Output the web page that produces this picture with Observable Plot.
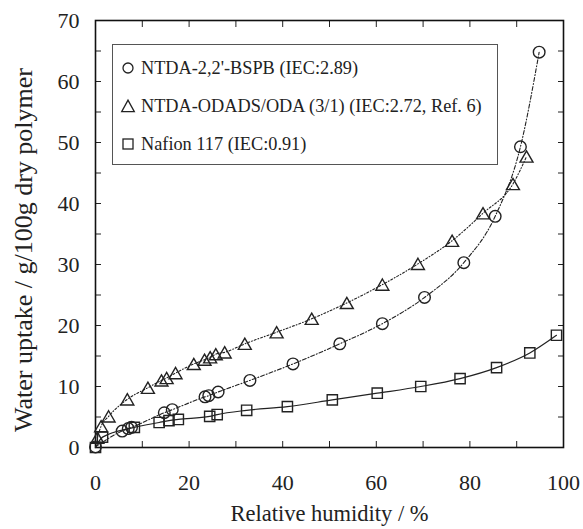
<!DOCTYPE html>
<html><head><meta charset="utf-8">
<script src="https://cdn.jsdelivr.net/npm/d3@7"></script>
<script src="https://cdn.jsdelivr.net/npm/@observablehq/plot@0.6"></script>
<style>
body{margin:0;background:#fff;}
#wrap{position:relative;width:583px;height:529px;font-family:'Liberation Serif','DejaVu Serif',serif;color:#222;}
#legend{position:absolute;left:112px;top:44px;width:386px;height:121px;border:1px solid #555;box-sizing:border-box;background:#fff;}
.row{position:absolute;left:0;height:0;width:100%;}
.row svg{position:absolute;left:6px;top:-9px;}
.row span{position:absolute;left:28px;top:0;transform:translateY(-50%);white-space:nowrap;font-size:18.3px;line-height:1;font-family:'Liberation Serif','DejaVu Serif',serif;}
</style></head>
<body>
<div id="wrap"></div>
<script>
// NTDA-2,2'-BSPB (circles)
const bspbX = [0, 5.7, 7.0, 7.7, 14.7, 16.4, 23.4, 24.2, 26.2, 33.0, 42.2, 52.2, 61.3, 70.3, 78.7, 85.4, 90.8, 94.8];
const bspbY = [0.1, 2.7, 3.1, 3.3, 5.7, 6.2, 8.3, 8.5, 9.1, 11.0, 13.7, 17.0, 20.3, 24.6, 30.3, 37.9, 49.3, 64.8];
// NTDA-ODADS/ODA (3/1) (triangles)
const odaX = [0.4, 1.2, 2.8, 6.8, 11.2, 14.1, 15.2, 17.1, 21.0, 23.3, 24.5, 25.7, 27.6, 31.9, 38.7, 46.2, 53.7, 61.3, 68.9, 76.2, 82.8, 89.2, 92.1];
const odaY = [1.6, 3.5, 5.1, 7.9, 9.8, 11.0, 11.4, 12.2, 13.7, 14.4, 14.8, 15.3, 15.6, 17.0, 18.9, 21.1, 23.7, 26.7, 30.1, 33.9, 38.4, 43.2, 47.7];
// Nafion 117 (squares)
const nafX = [0, 1.5, 8.3, 13.6, 15.7, 17.7, 24.4, 26.0, 32.3, 41.0, 50.6, 60.2, 69.5, 77.9, 85.7, 92.8, 98.5];
const nafY = [0, 1.7, 3.3, 4.1, 4.4, 4.6, 5.1, 5.4, 6.1, 6.7, 7.8, 8.9, 10.0, 11.3, 13.1, 15.5, 18.4];

const seriesNames = ["NTDA-2,2'-BSPB (IEC:2.89)", "NTDA-ODADS/ODA (3/1) (IEC:2.72, Ref. 6)", "Nafion 117 (IEC:0.91)"];
const xTicks = [0, 20, 40, 60, 80, 100];
const xMinor = [0, 10, 20, 30, 40, 50, 60, 70, 80, 90, 100];
const yTicks = [0, 10, 20, 30, 40, 50, 60, 70];
const yMinor = [0, 5, 10, 15, 20, 25, 30, 35, 40, 45, 50, 55, 60, 65, 70];
const xLabel = "Relative humidity / %";
const yLabel = "Water uptake / g/100g dry polymer";

const toRows = (xs, ys) => xs.map((x, i) => ({x, y: ys[i]}));
const bspb = toRows(bspbX, bspbY);
const oda = toRows(odaX, odaY);
const naf = toRows(nafX, nafY);

// triangle centred on its bounding box
const triSym = {draw(ctx, size) {
  const r = Math.sqrt(size / Math.PI);
  const a = 1.35 * r, b = 1.17 * r;
  ctx.moveTo(0, -b); ctx.lineTo(a, b); ctx.lineTo(-a, b); ctx.closePath();
}};

const ink = "#222";
const serif = "'Liberation Serif','DejaVu Serif',serif";
const chart = Plot.plot({
  width: 583, height: 529,
  marginLeft: 95, marginRight: 20, marginTop: 20, marginBottom: 82,
  x: {domain: [0, 100]},
  y: {domain: [0, 70]},
  style: {fontFamily: serif, color: ink, background: "white"},
  marks: [
    Plot.axisX({anchor: "bottom", ticks: xMinor, tickSize: 6, dy: -6, tickFormat: () => "", label: null, stroke: ink}),
    Plot.axisX({anchor: "top", ticks: xMinor, tickSize: 6, dy: 6, tickFormat: () => "", label: null, stroke: ink}),
    Plot.axisY({anchor: "left", ticks: yMinor, tickSize: 6, dx: 6, tickFormat: () => "", label: null, stroke: ink}),
    Plot.axisY({anchor: "right", ticks: yMinor, tickSize: 6, dx: -6, tickFormat: () => "", label: null, stroke: ink}),
    Plot.axisX({anchor: "bottom", ticks: xTicks, tickSize: 0, tickPadding: 27, fontSize: 22, label: null, fill: ink, fontFamily: serif}),
    Plot.axisY({anchor: "left", ticks: yTicks, tickSize: 0, tickPadding: 16, fontSize: 22, label: null, fill: ink, fontFamily: serif}),
    Plot.frame({stroke: "#111", strokeWidth: 1.6}),
    Plot.line(naf, {x: "x", y: "y", curve: "monotone-x", stroke: ink, strokeWidth: 1.2}),
    Plot.line(bspb, {x: "x", y: "y", curve: "monotone-x", stroke: ink, strokeWidth: 1.1, strokeDasharray: "4,2,1,2"}),
    Plot.line(oda, {x: "x", y: "y", curve: "monotone-x", stroke: ink, strokeWidth: 1.1, strokeDasharray: "2,2,0.8,2"}),
    Plot.dot(naf, {x: "x", y: "y", symbol: "square", r: 5.8, stroke: ink, strokeWidth: 1.4, fill: "none"}),
    Plot.dot(bspb, {x: "x", y: "y", symbol: "circle", r: 5.8, stroke: ink, strokeWidth: 1.4, fill: "none"}),
    Plot.dot(oda, {x: "x", y: "y", symbol: triSym, r: 4.8, stroke: ink, strokeWidth: 1.4, fill: "none"}),
    Plot.text([xLabel], {text: d => d, frameAnchor: "bottom", lineAnchor: "middle", dy: 66, fontSize: 22.5, fill: ink, fontFamily: serif}),
    Plot.text([yLabel], {text: d => d, frameAnchor: "left", textAnchor: "middle", lineAnchor: "middle", rotate: -90, dx: -72, dy: 16, fontSize: 26, fill: ink, fontFamily: serif})
  ]
});
const wrap = document.getElementById("wrap");
wrap.appendChild(chart);

// legend (inside the plot area)
const legend = document.createElement("div");
legend.id = "legend";
const symbolsSvg = [
  '<svg width="18" height="18"><circle cx="9" cy="9" r="5" fill="none" stroke="#222" stroke-width="1.3"/></svg>',
  '<svg width="18" height="18"><polygon points="2.7,14.6 15.3,14.6 9,3.2" fill="none" stroke="#222" stroke-width="1.3"/></svg>',
  '<svg width="18" height="18"><rect x="4" y="4" width="10" height="10" fill="none" stroke="#222" stroke-width="1.3"/></svg>'
];
const rowTops = [23, 61, 99];
seriesNames.forEach((name, i) => {
  const row = document.createElement("div");
  row.className = "row";
  row.style.top = rowTops[i] + "px";
  row.innerHTML = symbolsSvg[i] + "<span></span>";
  row.querySelector("span").textContent = name;
  legend.appendChild(row);
});
wrap.appendChild(legend);
</script>
</body></html>
